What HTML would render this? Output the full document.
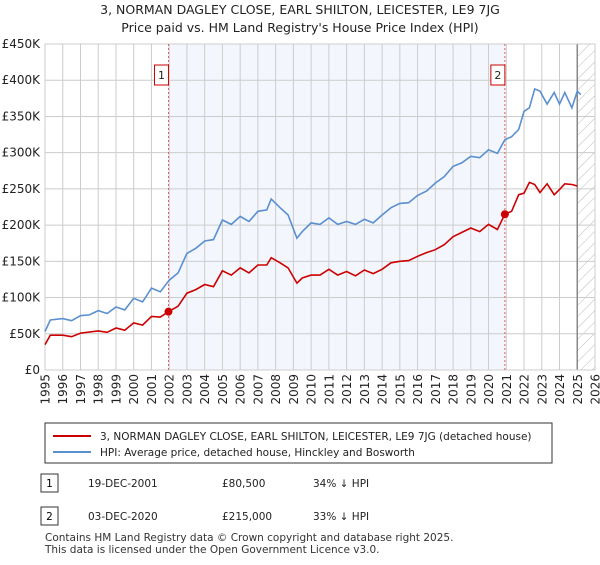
<!DOCTYPE html>
<html><head><meta charset="utf-8"><style>
body{margin:0;background:#fff;font-family:"Liberation Sans","DejaVu Sans",sans-serif}
svg text{font-family:"DejaVu Sans","Liberation Sans",sans-serif}
</style></head><body>
<svg id="c" width="600" height="560" xmlns="http://www.w3.org/2000/svg">
<defs><pattern id="h" width="8" height="8" patternUnits="userSpaceOnUse" patternTransform="rotate(45)"><line x1="0" y1="0" x2="0" y2="8" stroke="#bbb" stroke-width="1"/></pattern></defs>
<text x="300" y="14" text-anchor="middle" font-size="12.5" fill="#222">3, NORMAN DAGLEY CLOSE, EARL SHILTON, LEICESTER, LE9 7JG</text>
<text x="300" y="32" text-anchor="middle" font-size="12.5" fill="#222">Price paid vs. HM Land Registry's House Price Index (HPI)</text>
<g id="plot"></g>
<rect x="45" y="423" width="507" height="40" fill="#fff" stroke="#333"/>
<line x1="53" y1="436" x2="91" y2="436" stroke="#cc0000" stroke-width="2"/>
<text x="100" y="440" font-size="10.5" fill="#222">3, NORMAN DAGLEY CLOSE, EARL SHILTON, LEICESTER, LE9 7JG (detached house)</text>
<line x1="53" y1="452" x2="91" y2="452" stroke="#5b8fd0" stroke-width="2"/>
<text x="100" y="456" font-size="10.5" fill="#222">HPI: Average price, detached house, Hinckley and Bosworth</text>
<g>
<rect x="41" y="474" width="17" height="18" fill="#fff" stroke="#333"/><text x="49.5" y="487" text-anchor="middle" font-size="10.5">1</text>
<text x="88" y="487" font-size="10.5" fill="#222">19-DEC-2001</text><text x="222" y="487" font-size="10.5" fill="#222">£80,500</text><text x="313" y="487" font-size="10.5" fill="#222">34% ↓ HPI</text></g>
<g>
<rect x="41" y="507" width="17" height="18" fill="#fff" stroke="#333"/><text x="49.5" y="520" text-anchor="middle" font-size="10.5">2</text>
<text x="88" y="520" font-size="10.5" fill="#222">03-DEC-2020</text><text x="222" y="520" font-size="10.5" fill="#222">£215,000</text><text x="313" y="520" font-size="10.5" fill="#222">33% ↓ HPI</text></g>
<text x="45" y="541" font-size="10.5" fill="#333">Contains HM Land Registry data © Crown copyright and database right 2025.</text>
<text x="45" y="553" font-size="10.5" fill="#333">This data is licensed under the Open Government Licence v3.0.</text>
</svg>
<script>
const hpiYears=[1995,1995.3,1996,1996.5,1997,1997.5,1998,1998.5,1999,1999.5,2000,2000.5,2001,2001.5,2002,2002.5,2003,2003.5,2004,2004.5,2005,2005.5,2006,2006.5,2007,2007.5,2007.75,2008.25,2008.7,2009.2,2009.5,2010,2010.5,2011,2011.5,2012,2012.5,2013,2013.5,2014,2014.5,2015,2015.5,2016,2016.5,2017,2017.5,2018,2018.5,2019,2019.5,2020,2020.5,2020.92,2021.3,2021.7,2022,2022.3,2022.6,2022.9,2023.3,2023.7,2024,2024.3,2024.7,2025,2025.2];
const hpiValues=[53,69,71,68,75,76,82,78,87,83,99,94,113,108,124,134,161,168,178,180,207,201,212,205,219,221,236,224,214,182,191,203,201,210,201,205,201,208,203,214,224,230,231,241,247,258,267,281,286,295,293,304,299,318,322,332,357,362,388,385,367,383,367,383,362,385,380];
const priceYears=[1995,1995.3,1996,1996.5,1997,1998,1998.5,1999,1999.5,2000,2000.5,2001,2001.5,2001.96,2002.5,2003,2003.5,2004,2004.5,2005,2005.5,2006,2006.5,2007,2007.5,2007.75,2008.25,2008.7,2009.2,2009.5,2010,2010.5,2011,2011.5,2012,2012.5,2013,2013.5,2014,2014.5,2015,2015.5,2016,2016.5,2017,2017.5,2018,2018.5,2019,2019.5,2020,2020.5,2020.92,2021.3,2021.7,2022,2022.3,2022.6,2022.9,2023.3,2023.7,2024,2024.3,2024.7,2025];
const priceValues=[35,48,48,46,51,54,52,58,55,65,62,74,73,80.5,88,106,111,118,115,137,131,141,134,145,145,155,148,141,120,127,131,131,139,131,136,130,138,133,139,148,150,151,157,162,166,173,184,190,196,191,201,194,215,219,242,244,259,256,245,257,242,249,257,256,254];
const saleYears=[2001.96,2020.92];
const saleValues=[80.5,215];
const saleLabels=["1","2"];
const yTicks=[0,50,100,150,200,250,300,350,400,450];
const yTickLabels=["£0","£50K","£100K","£150K","£200K","£250K","£300K","£350K","£400K","£450K"];
const xTicks=[1995,1996,1997,1998,1999,2000,2001,2002,2003,2004,2005,2006,2007,2008,2009,2010,2011,2012,2013,2014,2015,2016,2017,2018,2019,2020,2021,2022,2023,2024,2025,2026];

const L=45,R=595,T=44,B=370,x0=1995,x1=2026,yMax=450;
const X=v=>L+(v-x0)/(x1-x0)*(R-L);
const Y=v=>B-v/yMax*(B-T);
const NS="http://www.w3.org/2000/svg";
const g=document.getElementById('plot');
function mk(t,a){const e=document.createElementNS(NS,t);for(const k in a)e.setAttribute(k,a[k]);g.appendChild(e);return e;}
let e;
e=mk('rect',{x:X(saleYears[0]),y:T,width:X(saleYears[1])-X(saleYears[0]),height:B-T,fill:'#eef3fc',opacity:0.7});


e=mk('rect',{x:X(2025.0),y:T,width:R-X(2025.0),height:B-T,fill:'url(#h)'});


yTicks.forEach((v,i)=>{
 e=mk('line',{x1:L,x2:R,y1:Y(v),y2:Y(v),stroke:'#ccc','stroke-width':1});
 
 
 e=mk('text',{x:L-5,y:Y(v)+4,'text-anchor':'end','font-size':12,fill:'#222'});e.textContent=yTickLabels[i];
 
 
});
xTicks.forEach(v=>{
 e=mk('line',{x1:X(v),x2:X(v),y1:T,y2:B,stroke:'#ccc','stroke-width':1});
 
 
 e=mk('text',{x:0,y:0,'text-anchor':'end','font-size':12,fill:'#222',transform:`translate(${X(v)+4.5},${B+4}) rotate(-90)`});e.textContent=v;
 
 
});
e=mk('line',{x1:X(2025.0),x2:X(2025.0),y1:T,y2:B,stroke:'#888','stroke-width':1.5});


e=mk('rect',{x:L,y:T,width:R-L,height:B-T,fill:'none',stroke:'#ccc'});


saleYears.forEach((s,i)=>{
 e=mk('line',{x1:X(s),x2:X(s),y1:T,y2:B,stroke:'#e06060','stroke-width':1,'stroke-dasharray':'2,2'});
 
 
});
const pts=(xs,ys)=>xs.map((v,i)=>X(v).toFixed(1)+','+Y(ys[i]).toFixed(1)).join(' ');
e=mk('polyline',{points:pts(hpiYears,hpiValues),fill:'none',stroke:'#5b8fd0','stroke-width':1.6});


e=mk('polyline',{points:pts(priceYears,priceValues),fill:'none',stroke:'#cc0000','stroke-width':1.6});


saleYears.forEach((s,i)=>{
 e=mk('circle',{cx:X(s),cy:Y(saleValues[i]),r:4,fill:'#cc0000'});
 
 
 e=mk('rect',{x:X(s)-14,y:65,width:14,height:20,fill:'#fff',stroke:'#cc0000'});
 
 
 e=mk('text',{x:X(s)-7,y:79,'text-anchor':'middle','font-size':11,fill:'#222'});e.textContent=saleLabels[i];
 
 
});
</script>
</body></html>
